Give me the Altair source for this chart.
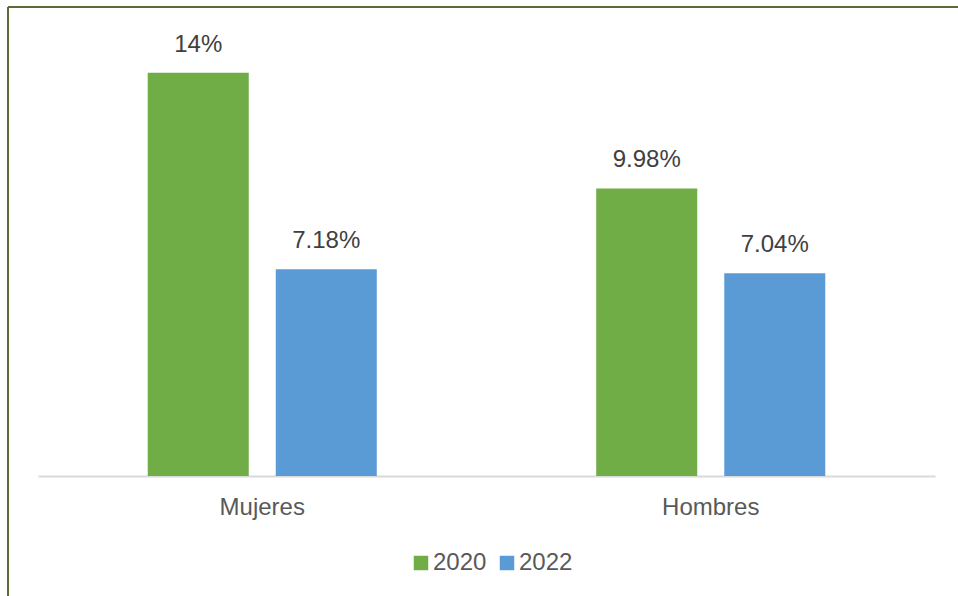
import altair as alt
import pandas as pd

categories = ["Mujeres", "Mujeres", "Hombres", "Hombres"]
years = ["2020", "2022", "2020", "2022"]
values = [14.0, 7.18, 9.98, 7.04]
labels = ["14%", "7.18%", "9.98%", "7.04%"]

df = pd.DataFrame({"cat": categories, "year": years, "value": values, "label": labels})

W, H = 897, 461
FONT = "Liberation Sans"

x = alt.X("cat:N", sort=["Mujeres", "Hombres"], title=None,
          scale=alt.Scale(paddingInner=0, paddingOuter=0),
          axis=alt.Axis(labelAngle=0, labelFontSize=24, labelColor="#595959",
                        labelFont=FONT, labelPadding=19, ticks=False,
                        domainColor="#d9d9d9", domainWidth=2))
y = alt.Y("value:Q", scale=alt.Scale(domain=[0, 16.0], nice=False), axis=None)
xo = alt.XOffset("year:N", scale=alt.Scale(paddingInner=0.211, paddingOuter=0.857))

bars = alt.Chart(df).mark_bar().encode(
    x=x, y=y, xOffset=xo,
    color=alt.Color("year:N", scale=alt.Scale(domain=["2020", "2022"], range=["#70AD47", "#5B9BD5"]),
                    legend=alt.Legend(title=None, orient="none", legendX=371, legendY=536,
                                      direction="horizontal", symbolType="square", symbolSize=210,
                                      symbolStrokeWidth=0, labelFontSize=24, labelFont=FONT,
                                      labelColor="#595959", labelOffset=0, columnPadding=8)),
)

text = alt.Chart(df).mark_text(fontSize=24, font=FONT, color="#404040", baseline="alphabetic", dy=-21).encode(
    x=x, y=y, xOffset=xo, text="label:N"
)

border_top = alt.Chart(df).mark_rule(color="#5b6b3c", strokeWidth=2).encode(
    x=alt.value(-30), x2=alt.value(W + 40), y=alt.value(-8)
)
border_left = alt.Chart(df).mark_rule(color="#5b6b3c", strokeWidth=2).encode(
    x=alt.value(-30), y=alt.value(-8), y2=alt.value(600)
)

chart = alt.layer(bars, text, border_top, border_left).properties(
    width=W, height=H,
    autosize=alt.AutoSizeParams(type="none"),
    padding={"left": 38, "top": 15, "right": 23, "bottom": 120},
).configure(background="white").configure_view(stroke=None, strokeWidth=0)

chart.save("out.html", embed_options={"renderer": "svg", "actions": False})
